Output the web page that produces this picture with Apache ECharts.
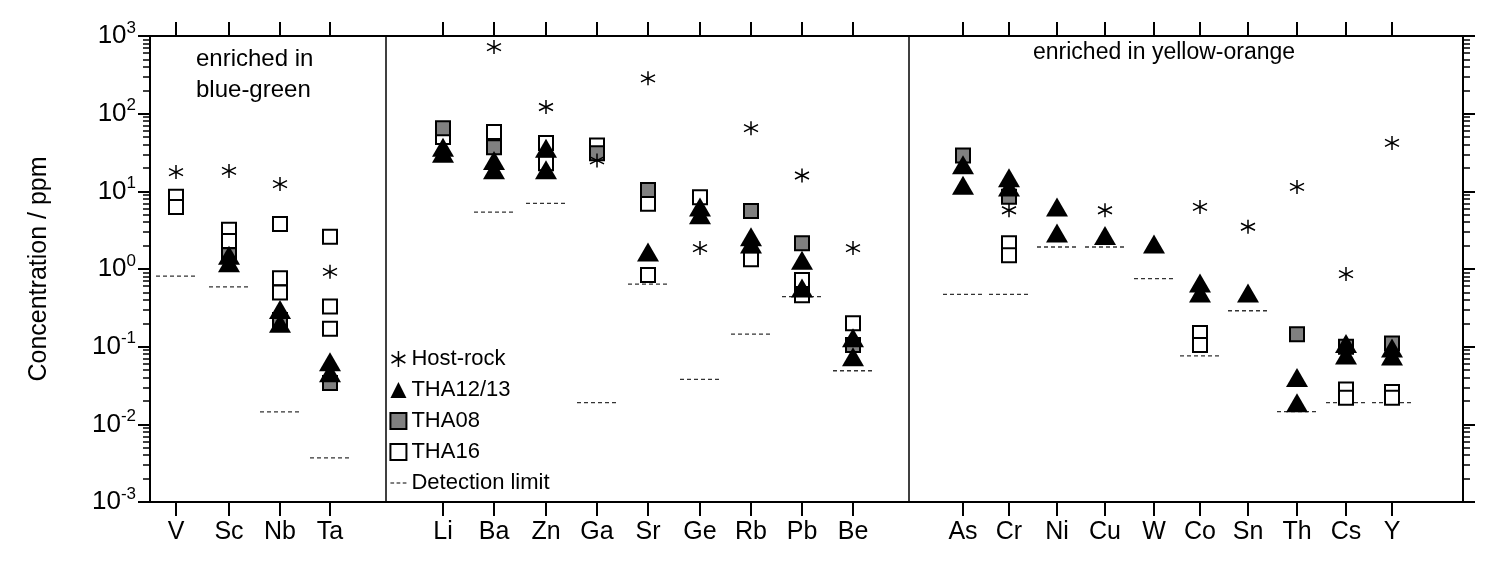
<!DOCTYPE html>
<html>
<head>
<meta charset="UTF-8">
<script src="https://cdn.jsdelivr.net/npm/echarts@6/dist/echarts.min.js"></script>
<style>html,body{margin:0;height:100%;background:#fff;} #chart{width:1500px;height:568px;}</style>
</head>
<body>
<div id="chart"></div>
<script>
// element names and their horizontal slots (axis units)
const elements = ['V','Sc','Nb','Ta','Li','Ba','Zn','Ga','Sr','Ge','Rb','Pb','Be','As','Cr','Ni','Cu','W','Co','Sn','Th','Cs','Y'];
const slots = [26,79,130,180, 293,344,396,447,498,550,601,652,703, 813,859,907,955,1004,1050,1098,1147,1196,1242];
const dividers = [236, 759];

const hostRock = [['V',17.7],['Sc',18.3],['Nb',12.4],['Ta',0.92],['Ba',720],['Zn',122],['Ga',25],['Sr',285],['Ge',1.86],['Rb',65],['Pb',16],['Be',1.86],
  ['Cr',5.7],['Cu',5.7],['Co',6.3],['Sn',3.5],['Th',11.4],['Cs',0.86],['Y',42]];
const tha1213 = [['Sc',1.5],['Sc',1.2],['Nb',0.3],['Nb',0.2],['Ta',0.064],['Ta',0.046],['Li',37],['Li',31],['Ba',25],['Ba',19],['Zn',36],['Zn',19],
  ['Sr',1.66],['Ge',6.3],['Ge',5],['Rb',2.6],['Rb',2.1],['Pb',1.3],['Pb',0.57],['Be',0.13],['Be',0.074],
  ['As',22],['As',12],['Cr',15],['Cr',11.4],['Ni',6.3],['Ni',2.9],['Cu',2.7],['W',2.1],['Co',0.66],['Co',0.49],['Sn',0.49],
  ['Th',0.04],['Th',0.019],['Cs',0.11],['Cs',0.078],['Y',0.096],['Y',0.076]];
const tha08 = [['Sc',1.5],['Nb',0.22],['Ta',0.034],['Li',65],['Ba',37],['Ga',31],['Sr',10.4],['Rb',5.6],['Pb',2.15],['Be',0.105],
  ['As',29],['Cr',8.5],['Th',0.145],['Cs',0.1],['Y',0.11]];
const tha16 = [['V',8.5],['V',6.3],['Sc',3.2],['Sc',2.3],['Nb',3.8],['Nb',0.76],['Nb',0.5],['Ta',2.6],['Ta',0.33],['Ta',0.17],['Li',50],['Ba',58],
  ['Zn',42],['Zn',23],['Ga',39],['Sr',6.9],['Sr',0.84],['Ge',8.4],['Rb',1.34],['Pb',0.72],['Pb',0.46],['Be',0.2],
  ['Cr',2.15],['Cr',1.5],['Co',0.15],['Co',0.105],['Cs',0.028],['Cs',0.022],['Y',0.026],['Y',0.022]];
const detLimit = [['V',0.81],['Sc',0.59],['Nb',0.0145],['Ta',0.0037],['Ba',5.4],['Zn',7],['Ga',0.019],['Sr',0.64],['Ge',0.038],['Rb',0.145],['Pb',0.44],['Be',0.049],
  ['As',0.47],['Cr',0.47],['Ni',1.92],['Cu',1.92],['W',0.75],['Co',0.076],['Sn',0.29],['Th',0.0146],['Cs',0.019],['Y',0.019]];

const pos = n => slots[elements.indexOf(n)];
const pts = arr => arr.map(d => [pos(d[0]), d[1]]);
const star = 'path://M0,-10L0,10M-8.66,-5L8.66,5M-8.66,5L8.66,-5';
const dashIcon = 'path://M0,0h3v1h-3zM5,0h3v1h-3zM10,0h3v1h-3z';

const chart = echarts.init(document.getElementById('chart'));
const font = 'Arial, Liberation Sans, sans-serif';
const yCommon = {
  type: 'log', min: 0.001, max: 1000, logBase: 10,
  splitLine: {show: false},
  axisLine: {onZero: false, lineStyle: {color: '#000', width: 2}},
  axisTick: {inside: false, length: 12, lineStyle: {color: '#000', width: 2}},
  minorTick: {show: true, splitNumber: 9, length: 7, lineStyle: {color: '#000', width: 1.5}}
};
const xCommon = {
  type: 'value', min: 0, max: 1313,
  splitLine: {show: false},
  axisLine: {onZero: false, lineStyle: {color: '#000', width: 2}},
  axisTick: {customValues: slots, length: 14, lineStyle: {color: '#000', width: 2}}
};
chart.setOption({
  animation: false,
  textStyle: {fontFamily: font, color: '#000'},
  grid: {left: 150, right: 37, top: 36, bottom: 66},
  legend: {
    orient: 'vertical', left: 384, top: 343, itemGap: 9, itemWidth: 16, itemHeight: 16,
    textStyle: {fontSize: 22, color: '#000', fontFamily: font},
    data: [
      {name: 'Host-rock', icon: star, itemStyle: {color: 'none', borderColor: '#000', borderWidth: 1.5}},
      {name: 'THA12/13', icon: 'triangle'},
      {name: 'THA08', icon: 'rect', itemStyle: {color: '#808080', borderColor: '#000', borderWidth: 2}},
      {name: 'THA16', icon: 'rect', itemStyle: {color: '#fff', borderColor: '#000', borderWidth: 2}},
      {name: 'Detection limit', icon: dashIcon, itemStyle: {color: '#000'}}
    ]
  },
  xAxis: [Object.assign({}, xCommon, {
    position: 'bottom',
    axisLabel: {customValues: slots, fontSize: 25, color: '#000', margin: 18,
      formatter: v => elements[slots.indexOf(v)] || ''}
  }), Object.assign({}, xCommon, {position: 'top', axisLabel: {show: false}})],
  yAxis: [Object.assign({}, yCommon, {
    position: 'left',
    name: 'Concentration / ppm', nameLocation: 'middle', nameGap: 98,
    nameTextStyle: {fontSize: 25, color: '#000'},
    axisLabel: {fontSize: 26, color: '#000', margin: 14,
      formatter: v => '10{s|' + Math.round(Math.log10(v)) + '}',
      rich: {s: {fontSize: 17, verticalAlign: 'top', padding: [0, 0, 16, 0]}}}
  }), Object.assign({}, yCommon, {position: 'right', axisLabel: {show: false}})],
  graphic: [
    {type: 'text', left: 196, top: 44, style: {text: 'enriched in\nblue-green', fontSize: 24, lineHeight: 31, align: 'center', fill: '#000', fontFamily: font}},
    {type: 'text', left: 1033, top: 41, style: {text: 'enriched in yellow-orange', fontSize: 23, fill: '#000', fontFamily: font}}
  ],
  series: [
    {name: 'Detection limit', type: 'custom', data: pts(detLimit), z: 1,
      renderItem: (params, api) => {
        const p = api.coord([api.value(0), api.value(1)]);
        return {type: 'line', shape: {x1: p[0] - 20, y1: p[1], x2: p[0] + 20, y2: p[1]},
          style: {stroke: '#333', lineWidth: 1.3, lineDash: [4, 3]}};
      },
      markLine: {silent: true, symbol: 'none', label: {show: false},
        lineStyle: {color: '#000', width: 1.5, type: 'solid'},
        data: dividers.map(x => ({xAxis: x}))}
    },
    {name: 'THA16', type: 'scatter', data: pts(tha16), symbol: 'rect', symbolSize: 14, z: 2,
      itemStyle: {color: '#fff', borderColor: '#000', borderWidth: 2, opacity: 1}},
    {name: 'THA08', type: 'scatter', data: pts(tha08), symbol: 'rect', symbolSize: 14, z: 3,
      itemStyle: {color: '#808080', borderColor: '#000', borderWidth: 2, opacity: 1}},
    {name: 'THA12/13', type: 'scatter', data: pts(tha1213), symbol: 'triangle', symbolSize: [22, 19], z: 4,
      itemStyle: {color: '#000', opacity: 1}},
    {name: 'Host-rock', type: 'scatter', data: pts(hostRock), symbol: star, symbolSize: 14, z: 5,
      itemStyle: {color: 'none', borderColor: '#000', borderWidth: 1.5, opacity: 1}},
    {name: 'right-axis', type: 'scatter', yAxisIndex: 1, xAxisIndex: 1, data: [], silent: true}
  ]
});
</script>
</body>
</html>
